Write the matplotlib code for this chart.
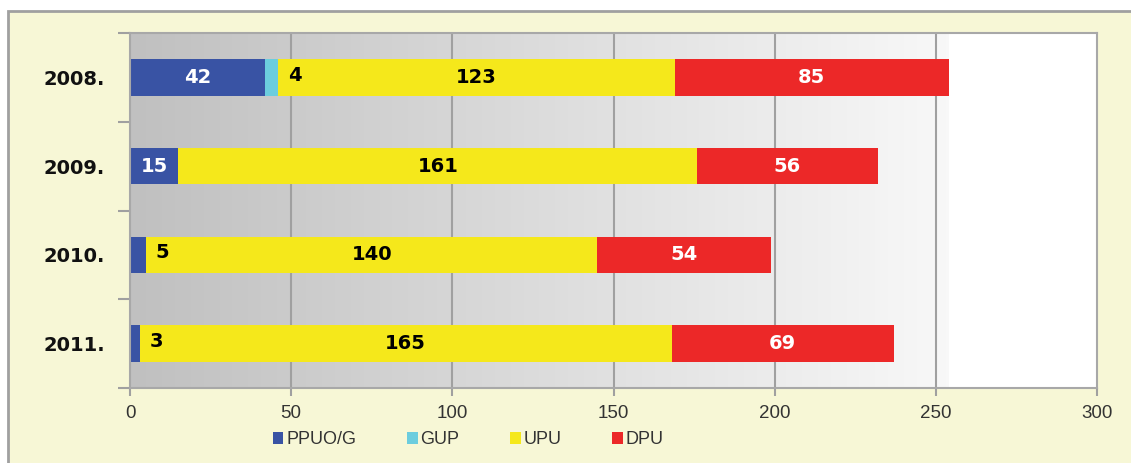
import matplotlib
matplotlib.use("Agg")
import matplotlib.pyplot as plt
import numpy as np
from matplotlib.patches import Rectangle

years = ["2008.", "2009.", "2010.", "2011."]
series_names = ["PPUO/G", "GUP", "UPU", "DPU"]
ppuo_g = [42, 15, 5, 3]
gup = [4, 0, 0, 0]
upu = [123, 161, 140, 165]
dpu = [85, 56, 54, 69]
x_ticks = [0, 50, 100, 150, 200, 250, 300]

colors = ["#3953A4", "#6CCDDE", "#F5E81B", "#EC2828"]
label_colors = ["white", "black", "black", "white"]

plt.rcParams['font.family'] = ['Liberation Sans', 'DejaVu Sans']
bold_family = ['DejaVu Sans']

fig = plt.figure(figsize=(11.31, 4.63), dpi=100)
fig.patch.set_facecolor("white")
bg = Rectangle((8 / 1131, -0.01), 1.02, 1 - 11 / 463 + 0.01, transform=fig.transFigure,
               facecolor="#F7F7D6", edgecolor="#A0A0A0", linewidth=2, zorder=-5)
fig.add_artist(bg)

ax = fig.add_axes([130 / 1131, 1 - 388 / 463, (1097 - 130) / 1131, (388 - 33) / 463])
ax.set_zorder(1)
ax.set_facecolor("white")

# gradient background
grad = np.linspace(0, 1, 256)
g = 192 + (248 - 192) * grad
img = np.dstack([g, g, g]).reshape(1, 256, 3) / 255.0
ax.imshow(img, extent=[0, 254, -0.5, 3.5], aspect="auto", zorder=0, origin="lower")

ax.set_xlim(0, 300)
ax.set_ylim(3.5, -0.5)

for xv in x_ticks[1:-1]:
    ax.axvline(xv, color="#A0A0A0", linewidth=1.5, zorder=1)

data = [ppuo_g, gup, upu, dpu]
y = np.arange(len(years))
left = np.zeros(len(years))
for i, (name, vals) in enumerate(zip(series_names, data)):
    vals = np.array(vals, dtype=float)
    ax.barh(y, vals, left=left, height=0.41, color=colors[i], label=name, zorder=2)
    for j, v in enumerate(vals):
        if v <= 0:
            continue
        if v < 10:
            ax.annotate(f"{int(v)}", xy=(left[j] + v, y[j]), xytext=(7, 1.5),
                        textcoords="offset points", ha="left", va="center",
                        fontsize=14, fontweight="bold", color="black", zorder=3,
                        family=bold_family)
        else:
            ax.text(left[j] + v / 2, y[j], f"{int(v)}", ha="center", va="center",
                    fontsize=14, fontweight="bold", color=label_colors[i], zorder=3,
                    family=bold_family)
    left += vals

ax.set_yticks(y)
ax.set_yticklabels(years, fontsize=14, fontweight="bold", color="#111111", family=bold_family)
ax.set_yticks(np.arange(-0.5, 4, 1), minor=True)
ax.tick_params(axis="y", which="major", length=0, pad=18)
ax.tick_params(axis="y", which="minor", length=9, color="#A0A0A0", width=1.5)

ax.set_xticks(x_ticks)
ax.set_xticklabels([str(v) for v in x_ticks], fontsize=13.5, color="#333333")
ax.tick_params(axis="x", length=6, color="#A0A0A0", width=1.5, pad=6)

for s in ax.spines.values():
    s.set_color("#A8A8A8")
    s.set_linewidth(1.5)

handles, labels = ax.get_legend_handles_labels()
leg = fig.legend(handles, labels, loc="center", bbox_to_anchor=(468 / 1131, 1 - 440 / 463),
                 ncol=4, frameon=False, fontsize=13, handlelength=0.6, handleheight=0.6,
                 handletextpad=0.15, columnspacing=2.8, labelcolor="#333333")

fig.savefig("out.png", dpi=100, facecolor=fig.get_facecolor())
